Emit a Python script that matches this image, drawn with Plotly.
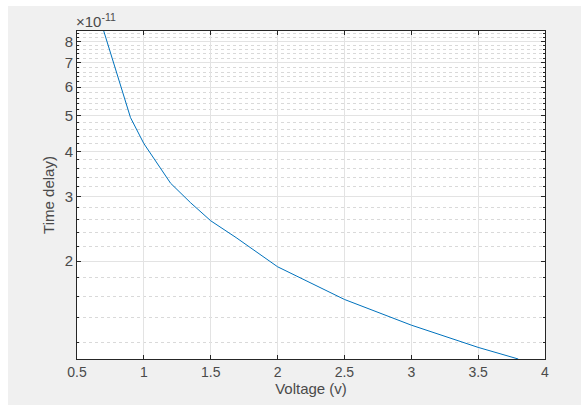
import numpy as np
import plotly.graph_objects as go

# Data (time delay in seconds)
voltage = [0.7, 0.9, 1.0, 1.1, 1.2, 1.35, 1.5, 1.69, 1.87, 2.0, 2.5, 3.0, 3.5, 3.8]
time_delay = [8.55e-11, 4.95e-11, 4.20e-11, 3.72e-11, 3.27e-11, 2.89e-11, 2.58e-11,
              2.32e-11, 2.08e-11, 1.93e-11, 1.57e-11, 1.335e-11, 1.16e-11, 1.078e-11]

x_ticks = [0.5, 1, 1.5, 2, 2.5, 3, 3.5, 4]
x_ticklabels = ["0.5", "1", "1.5", "2", "2.5", "3", "3.5", "4"]
y_ticks = [2e-11, 3e-11, 4e-11, 5e-11, 6e-11, 7e-11, 8e-11]
y_ticklabels = ["2", "3", "4", "5", "6", "7", "8"]
y_minor = [v * 1e-11 for v in [1.2, 1.4, 1.6, 1.8, 2.2, 2.4, 2.6, 2.8, 3.2, 3.4, 3.6, 3.8,
                               4.2, 4.4, 4.6, 4.8, 5.2, 5.4, 5.6, 5.8, 6.2, 6.4, 6.6, 6.8,
                               7.2, 7.4, 7.6, 7.8, 8.2, 8.4]]

FONT = "Liberation Sans, Arial, sans-serif"
AX = "#262626"
TXT = "#4a4a4a"

W, H = 581, 405
L, R, T, B = 77, 36, 31, 46
PW, PH = W - L - R, H - T - B

fig = go.Figure()
fig.add_trace(go.Scatter(x=voltage, y=time_delay, mode="lines",
                         line=dict(color="#0072BD", width=1), showlegend=False))

fig.update_layout(
    width=W, height=H,
    paper_bgcolor="#f0f0f0", plot_bgcolor="white",
    margin=dict(l=L, r=R, t=T, b=B),
    font=dict(family=FONT, size=13, color=TXT),
    shapes=[
        dict(type="rect", xref="paper", yref="paper", layer="above",
             x0=-L / PW, x1=(W - L) / PW, y0=(PH + T - 6) / PH, y1=(PH + T) / PH,
             fillcolor="white", line=dict(width=0)),
        dict(type="rect", xref="paper", yref="paper", layer="above",
             x0=-L / PW, x1=(8 - L) / PW, y0=-B / PH, y1=(PH + T) / PH,
             fillcolor="white", line=dict(width=0)),
    ],
    annotations=[dict(text="×10<sup>-11</sup>", xref="paper", yref="paper",
                      x=0, y=1, xanchor="left", yanchor="bottom", xshift=-3, yshift=-1,
                      showarrow=False, font=dict(family=FONT, size=15, color=TXT))],
)

fig.update_xaxes(
    range=[0.5, 4], tickvals=x_ticks, ticktext=x_ticklabels,
    showgrid=True, gridcolor="#e3e3e3", gridwidth=1,
    showline=True, linecolor=AX, linewidth=1, mirror="ticks",
    ticks="inside", ticklen=4, tickcolor=AX, zeroline=False,
    title=dict(text="Voltage (v)", font=dict(family=FONT, size=15, color=TXT), standoff=3),
    tickfont=dict(family=FONT, size=14, color=TXT),
)
fig.update_yaxes(
    type="log", range=[np.log10(min(time_delay)), np.log10(max(time_delay))],
    tickvals=y_ticks, ticktext=y_ticklabels,
    showgrid=True, gridcolor="#e3e3e3", gridwidth=1,
    showline=True, linecolor=AX, linewidth=1, mirror="ticks",
    ticks="inside", ticklen=4, tickcolor=AX, zeroline=False,
    minor=dict(tickvals=y_minor, showgrid=True, gridcolor="#d9d9d9",
               griddash="dot", gridwidth=1, ticks="inside", ticklen=2, tickcolor=AX),
    title=dict(text="Time delay)", font=dict(family=FONT, size=15, color=TXT), standoff=6),
    tickfont=dict(family=FONT, size=15, color=TXT),
)

fig.write_html("out.html")
